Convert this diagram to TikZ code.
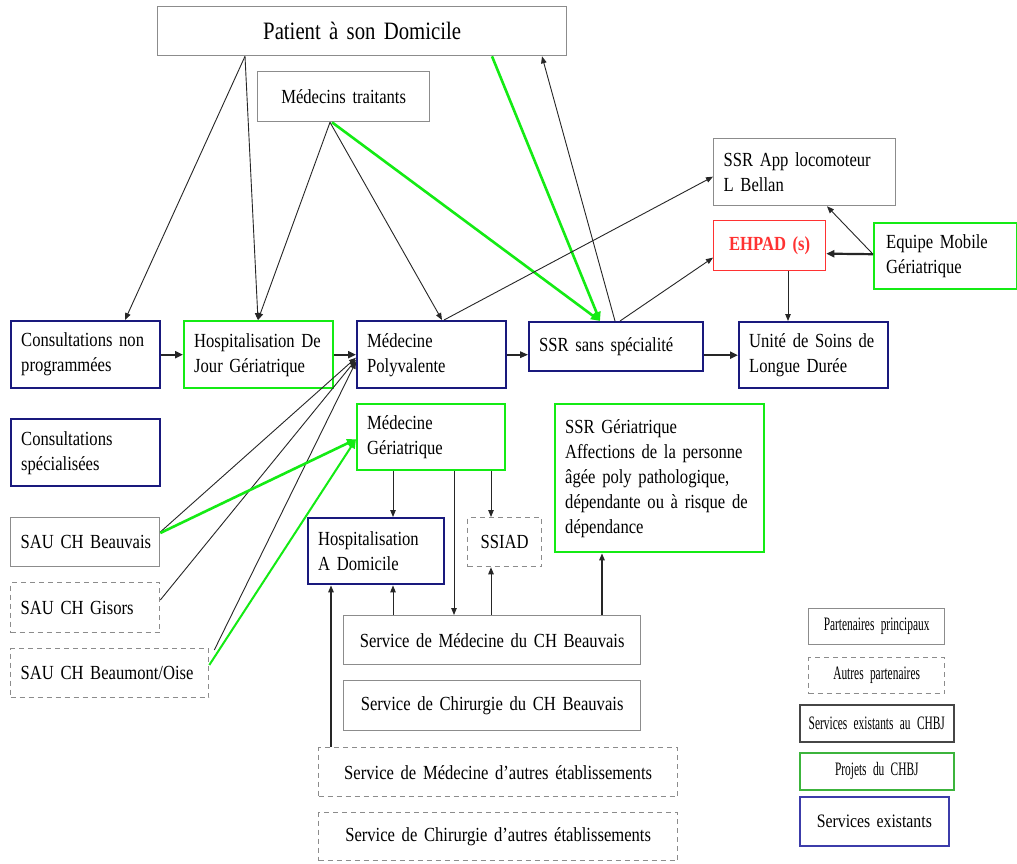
\documentclass[tikz,border=0pt]{standalone}
\usepackage{fontspec}
\setmainfont[FakeStretch=0.83,WordSpace=0.8]{Liberation Serif}
\newfontfamily\legfont[FakeStretch=0.6,WordSpace=0.5]{Liberation Serif}
\usetikzlibrary{arrows.meta}
\definecolor{navyc}{RGB}{25,25,125}
\definecolor{greenc}{RGB}{20,235,20}
\definecolor{grayc}{RGB}{140,140,140}
\definecolor{redc}{RGB}{255,50,50}
\definecolor{darkc}{RGB}{70,70,70}
\definecolor{leggreen}{RGB}{60,180,60}
\definecolor{legnavy}{RGB}{60,60,170}
\hyphenpenalty=10000
\exhyphenpenalty=10000
\tikzset{
  base/.style={anchor=north west, inner xsep=10pt, inner ysep=2pt, font=\fontsize{20}{25}\selectfont, align=left},
  nb/.style={base, draw=navyc, line width=2.4pt},
  gb/.style={base, draw=greenc, line width=2.4pt},
  pb/.style={base, draw=grayc, line width=1.3pt},
  db/.style={pb, dash pattern=on 5pt off 4pt},
  lf/.style={font=\legfont\fontsize{19}{22}\selectfont, align=center},
  arr/.style={-{Triangle[length=7pt,width=5.5pt]}, line width=0.9pt, draw=black!85},
  thk/.style={-{Triangle[length=8pt,width=7pt]}, line width=2.2pt, draw=black!85},
  med/.style={-{Triangle[length=8pt,width=6.5pt]}, line width=1.6pt, draw=black!85},
  grn/.style={-{Triangle[length=9pt,width=8pt]}, line width=2.6pt, draw=greenc},
}
\begin{document}
\begin{tikzpicture}[x=1pt,y=-1pt]
\fill[white] (0,0) rectangle (1017,863);
\useasboundingbox (0,0) rectangle (1017,863);

% top
\node[pb, minimum width=409pt, minimum height=49pt, text width=389pt, align=center, font=\fontsize{25}{30}\selectfont] (pat) at (157,6) {Patient à son Domicile};
\node[pb, minimum width=172pt, minimum height=50pt, text width=152pt, align=center] (mt) at (257,71) {Médecins traitants};
\node[pb, minimum width=182pt, minimum height=67pt, text width=162pt] (app) at (713,138) {SSR~App~locomoteur\\L~Bellan};
\node[base, draw=redc, line width=1.3pt, minimum width=112pt, minimum height=50pt, text width=92pt, align=center, text=redc, font=\fontsize{20}{25}\selectfont\bfseries] (ehpad) at (713,220) {EHPAD~(s)};
\node[gb, inner xsep=12pt, minimum width=143pt, minimum height=66pt, text width=119pt] (emg) at (873,222) {Equipe~Mobile\\Gériatrique};

% row 1
\node[nb, minimum width=149pt, minimum height=67pt, text width=129pt] (cnp) at (10,320) {Consultations~non\\programmées};
\node[gb, minimum width=149pt, minimum height=67pt, text width=129pt] (hdj) at (183,320) {Hospitalisation~De\\Jour~Gériatrique};
\node[nb, minimum width=149pt, minimum height=67pt, text width=129pt] (mp) at (356,320) {Médecine\\Polyvalente};
\node[nb, minimum width=174pt, minimum height=49pt, text width=154pt] (ssr) at (528,321) {SSR~sans~spécialité};
\node[nb, minimum width=149pt, minimum height=66pt, text width=129pt] (usld) at (738,321) {Unité~de~Soins~de\\Longue~Durée};

% row 2
\node[nb, minimum width=149pt, minimum height=67pt, text width=129pt] (cs) at (10,418) {Consultations\\spécialisées};
\node[gb, minimum width=148pt, minimum height=66pt, text width=128pt] (mg) at (356,403) {Médecine\\Gériatrique};
\node[gb, minimum width=209pt, minimum height=148pt, text width=189pt] (ssrg) at (554,403) {SSR~Gériatrique\\Affections~de~la~personne\\âgée~poly~pathologique,\\dépendante~ou~à~risque~de\\dépendance};

% left column
\node[pb, minimum width=149pt, minimum height=49pt, text width=129pt] (sb) at (10,517) {SAU~CH~Beauvais};
\node[db, minimum width=149pt, minimum height=50pt, text width=129pt] (sg) at (10,582) {SAU~CH~Gisors};
\node[db, minimum width=198pt, minimum height=49pt, text width=178pt] (sbo) at (10,648) {SAU~CH~Beaumont/Oise};

% middle lower
\node[nb, minimum width=136pt, minimum height=66pt, text width=116pt] (had) at (307,517) {Hospitalisation\\A~Domicile};
\node[db, minimum width=74pt, minimum height=49pt, text width=54pt, align=center] (ssiad) at (467,517) {SSIAD};
\node[pb, minimum width=297pt, minimum height=49pt, text width=277pt, align=center] (smb) at (343,615) {Service de Médecine du CH Beauvais};
\node[pb, minimum width=297pt, minimum height=50pt, text width=277pt, align=center] (scb) at (343,680) {Service de Chirurgie du CH Beauvais};
\node[db, minimum width=359pt, minimum height=49pt, text width=339pt, align=center] (sma) at (318,747) {Service de Médecine d’autres établissements};
\node[db, minimum width=359pt, minimum height=48pt, text width=339pt, align=center] (sca) at (318,812) {Service de Chirurgie d’autres établissements};

% legend
\node[pb, lf, inner xsep=4pt, minimum width=136pt, minimum height=36pt, text width=128pt] (l1) at (808,608) {Partenaires~principaux};
\node[db, lf, inner xsep=4pt, minimum width=136pt, minimum height=36pt, text width=128pt] (l2) at (808,657) {Autres~partenaires};
\node[base, lf, inner xsep=4pt, draw=darkc, line width=1.6pt, minimum width=154pt, minimum height=37pt, text width=146pt] (l3) at (799,704) {Services~existants~au~CHBJ};
\node[base, lf, inner xsep=4pt, draw=leggreen, line width=1.6pt, minimum width=154pt, minimum height=37pt, text width=146pt] (l4) at (799,752) {Projets~du~CHBJ};
\node[base, draw=legnavy, line width=1.8pt, inner xsep=4pt, minimum width=149pt, minimum height=49pt, text width=141pt, align=center, font=\fontsize{19}{23}\selectfont] (l5) at (799,796) {Services~existants};

% connectors from top
\draw[arr] ([xshift=88pt]pat.south west) -- ([xshift=115pt]cnp.north west);
\draw[arr] ([xshift=88pt]pat.south west) -- ([xshift=75pt]hdj.north west);
\draw[arr] ([xshift=73pt]mt.south west) -- ([xshift=75pt]hdj.north west);
\draw[arr] ([xshift=73pt]mt.south west) -- ([xshift=86pt]mp.north west);
\draw[grn] ([xshift=75pt]mt.south west) -- ([xshift=72pt]ssr.north west);
\draw[grn] ([xshift=335pt]pat.south west) -- ([xshift=72pt]ssr.north west);
\draw[arr] ([xshift=87pt]ssr.north west) -- ([xshift=385pt]pat.south west);
\draw[arr] ([xshift=88pt]mp.north west) -- ([yshift=-4.5pt]app.west);
\draw[arr] ([xshift=92pt]ssr.north west) -- ([yshift=-12pt]ehpad.west);
\draw[thk] ([yshift=2pt]emg.west) -- ([yshift=-8pt]ehpad.east);
\draw[arr] ([yshift=2pt]emg.west) -- ([xshift=114pt]app.south west);
\draw[arr] ([xshift=75pt]ehpad.south west) -- ([xshift=50pt]usld.north west);

% row 1 chain
\draw[thk] (cnp.east) -- (hdj.west);
\draw[thk] (hdj.east) -- (mp.west);
\draw[med] (mp.east) -- (mp.east -| ssr.west);
\draw[thk] (usld.west -| ssr.east) -- (usld.west);

% SAU links
\draw[arr] ([yshift=-15pt]sb.north east) -- ([yshift=-3pt]mp.west);
\draw[arr] ([yshift=-18pt]sg.north east) -- ([yshift=-5pt]mp.west);
\draw[arr] ([xshift=5pt,yshift=-2pt]sbo.north east) -- ([yshift=-7pt]mp.west);
\draw[grn] ([yshift=-16pt]sb.north east) -- ([yshift=-2pt]mg.west);
\draw[grn, line width=2pt] ([yshift=-17pt]sbo.north east) -- ([yshift=-2pt]mg.west);

% lower verticals
\draw[arr] ([xshift=37pt]mg.south west) -- ([xshift=86pt]had.north west);
\draw[arr] ([xshift=98pt]mg.south west) -- ([xshift=111pt]smb.north west);
\draw[arr] ([xshift=135pt]mg.south west) -- ([xshift=24pt]ssiad.north west);
\draw[arr] ([xshift=50pt]smb.north west) -- ([xshift=86pt]had.south west);
\draw[arr] ([xshift=148pt]smb.north west) -- ([xshift=24pt]ssiad.south west);
\draw[arr, line width=1.3pt] ([xshift=259pt]smb.north west) -- ([xshift=48pt]ssrg.south west);
\draw[arr, line width=1.3pt] ([xshift=13pt]sma.north west) -- ([xshift=24pt]had.south west);
\end{tikzpicture}
\end{document}
